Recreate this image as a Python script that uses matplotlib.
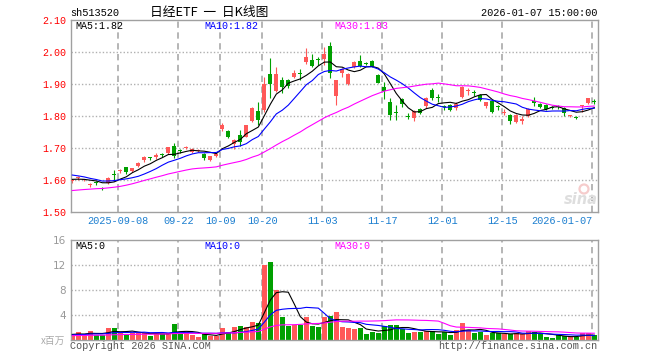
# 日经ETF 日K线图 (sina 风格) 复刻

import numpy as np
import pandas as pd
import matplotlib
matplotlib.use("Agg")
import matplotlib.pyplot as plt
from matplotlib.patches import Circle


# =========================
# 1. 数据
# =========================
# 交易日: 2025-08-27 ~ 2026-01-07, 去掉国庆和元旦休市
holidays = ["2025-10-01", "2025-10-02", "2025-10-03", "2025-10-06", "2025-10-07",
            "2025-10-08", "2026-01-01", "2026-01-02"]
dates = pd.bdate_range("2025-08-27", "2026-01-07")
dates = dates[~dates.isin(pd.to_datetime(holidays))]

open_ = [1.596, 1.605, 1.599, 1.583, 1.592, 1.574, 1.590, 1.618, 1.627, 1.640,
         1.627, 1.644, 1.661, 1.670, 1.671, 1.680, 1.684, 1.707, 1.694, 1.699,
         1.689, 1.690, 1.682, 1.664, 1.674, 1.758, 1.753, 1.712, 1.742, 1.735,
         1.785, 1.815, 1.820, 1.931, 1.879, 1.912, 1.914, 1.921, 1.934, 1.968,
         1.976, 1.979, 1.978, 2.020, 1.863, 1.935, 1.900, 1.954, 1.972, 1.966,
         1.972, 1.928, 1.891, 1.845, 1.813, 1.852, 1.800, 1.794, 1.821, 1.832,
         1.880, 1.859, 1.830, 1.835, 1.824, 1.858, 1.877, 1.874, 1.866, 1.832,
         1.846, 1.829, 1.810, 1.803, 1.782, 1.783, 1.799, 1.848, 1.838, 1.834,
         1.828, 1.830, 1.826, 1.799, 1.797, 1.832, 1.840, 1.848]
high = [1.603, 1.612, 1.604, 1.590, 1.597, 1.578, 1.609, 1.632, 1.633, 1.642,
        1.638, 1.655, 1.676, 1.673, 1.684, 1.684, 1.703, 1.715, 1.697, 1.705,
        1.700, 1.697, 1.684, 1.676, 1.684, 1.778, 1.757, 1.727, 1.757, 1.772,
        1.827, 1.845, 1.921, 1.981, 1.952, 1.923, 1.916, 1.944, 1.946, 2.012,
        1.994, 1.983, 2.017, 2.032, 1.914, 1.950, 1.933, 1.971, 1.991, 1.968,
        1.975, 1.930, 1.907, 1.855, 1.833, 1.856, 1.810, 1.818, 1.825, 1.858,
        1.888, 1.869, 1.835, 1.838, 1.845, 1.894, 1.889, 1.880, 1.868, 1.845,
        1.848, 1.834, 1.822, 1.806, 1.806, 1.801, 1.826, 1.858, 1.840, 1.836,
        1.832, 1.833, 1.828, 1.804, 1.799, 1.835, 1.856, 1.852]
low = [1.592, 1.600, 1.596, 1.578, 1.583, 1.568, 1.588, 1.598, 1.622, 1.620,
       1.625, 1.642, 1.657, 1.664, 1.667, 1.672, 1.682, 1.669, 1.684, 1.697,
       1.684, 1.686, 1.663, 1.658, 1.672, 1.752, 1.730, 1.697, 1.707, 1.733,
       1.780, 1.772, 1.812, 1.857, 1.875, 1.872, 1.886, 1.918, 1.912, 1.962,
       1.952, 1.960, 1.958, 1.920, 1.834, 1.923, 1.898, 1.949, 1.953, 1.958,
       1.952, 1.902, 1.852, 1.788, 1.786, 1.829, 1.790, 1.785, 1.805, 1.826,
       1.850, 1.843, 1.820, 1.815, 1.818, 1.855, 1.865, 1.863, 1.847, 1.826,
       1.810, 1.820, 1.803, 1.774, 1.777, 1.775, 1.797, 1.830, 1.824, 1.820,
       1.822, 1.822, 1.800, 1.797, 1.790, 1.814, 1.838, 1.836]
close = [1.600, 1.608, 1.600, 1.587, 1.590, 1.572, 1.607, 1.615, 1.630, 1.626,
         1.636, 1.653, 1.671, 1.668, 1.679, 1.678, 1.702, 1.674, 1.691, 1.702,
         1.696, 1.692, 1.669, 1.674, 1.681, 1.773, 1.735, 1.724, 1.720, 1.771,
         1.824, 1.788, 1.900, 1.900, 1.930, 1.890, 1.893, 1.935, 1.932, 1.985,
         1.955, 1.976, 1.994, 1.934, 1.911, 1.948, 1.931, 1.969, 1.956, 1.964,
         1.955, 1.904, 1.879, 1.804, 1.810, 1.836, 1.798, 1.815, 1.810, 1.856,
         1.856, 1.857, 1.827, 1.818, 1.838, 1.892, 1.880, 1.871, 1.850, 1.843,
         1.813, 1.827, 1.813, 1.783, 1.803, 1.790, 1.823, 1.842, 1.827, 1.822,
         1.826, 1.828, 1.809, 1.801, 1.795, 1.834, 1.855, 1.845]
# 成交量 (百万)
volume = [0.85, 1.28, 0.85, 1.50, 0.80, 0.80, 1.92, 1.92, 1.17, 0.96,
          1.17, 1.17, 1.17, 0.64, 0.96, 0.96, 1.17, 2.56, 1.07, 1.17,
          0.80, 0.53, 0.96, 0.70, 0.70, 1.92, 1.33, 2.13, 2.24, 2.03,
          2.88, 2.67, 12.00, 12.48, 7.95, 3.63, 2.30, 2.45, 2.40, 3.63,
          2.24, 2.08, 3.68, 3.84, 4.53, 2.13, 1.97, 1.76, 1.97, 0.96,
          1.33, 1.17, 2.24, 2.45, 2.45, 1.70, 1.17, 1.33, 1.33, 1.50,
          1.44, 0.96, 1.23, 0.85, 1.65, 2.77, 1.60, 1.17, 1.33, 0.85,
          1.17, 1.07, 0.90, 0.90, 1.07, 0.90, 1.39, 1.33, 0.90, 0.53,
          0.37, 0.75, 0.64, 0.43, 0.53, 1.07, 1.07, 0.80]

# 图左侧之前 29 个交易日 (用于均线)
pre_close = [1.560, 1.555, 1.550, 1.548, 1.552, 1.550, 1.553, 1.551,
             1.515, 1.505, 1.500, 1.510, 1.520, 1.525, 1.535, 1.540, 1.553, 1.565,
             1.580, 1.592,
             1.635, 1.632, 1.633, 1.625, 1.620, 1.605, 1.603, 1.600, 1.602]
pre_vol = [0.62, 0.55, 0.71, 0.68, 0.59, 0.74, 0.66, 0.52, 0.63, 0.70,
           0.58, 0.77, 0.64, 0.61, 0.69, 0.57, 0.72, 0.66, 0.60, 0.76,
           0.68, 0.74, 0.65, 0.71, 0.72, 0.95, 0.88, 0.92, 0.90]

ma_windows = [5, 10, 30]
ma_colors = ["black", "#0000ff", "#ff00ff"]
price_legend = ["MA5:1.82", "MA10:1.82", "MA30:1.83"]
vol_legend = ["MA5:0", "MA10:0", "MA30:0"]

price_ticks = [1.50, 1.60, 1.70, 1.80, 1.90, 2.00, 2.10]
vol_ticks = [4, 8, 12, 16]
date_ticks = ["2025-09-08", "2025-09-22", "2025-10-09", "2025-10-20", "2025-11-03",
              "2025-11-17", "2025-12-01", "2025-12-15", "2026-01-07"]
date_labels = ["2025-09-08", "09-22", "10-09", "10-20", "11-03",
               "11-17", "12-01", "12-15", "2026-01-07"]


# =========================
# 2. 计算
# =========================
open_ = np.array(open_)
high = np.array(high)
low = np.array(low)
close = np.array(close)
volume = np.array(volume)
n = len(close)
idx = np.arange(n)

all_close = pd.Series(pre_close + list(close))
all_vol = pd.Series(pre_vol + list(volume))
ma_price = [all_close.rolling(w).mean().values[-n:] for w in ma_windows]
ma_vol = [all_vol.rolling(w).mean().values[-n:] for w in ma_windows]

RED = "#ff5858"
GREEN = "#00a000"
up = close >= open_
colors = np.where(up, RED, GREEN)

tick_pos = [int(np.where(dates == pd.Timestamp(d))[0][0]) for d in date_ticks]


# =========================
# 3. 作图
# =========================
W, H = 660, 360
MONO = ["Liberation Mono", "DejaVu Sans Mono"]
CJK = ["Noto Sans CJK SC", "DejaVu Sans"]
GRID = "#b0b0b0"
BORDER = "#a0a0a0"


def fx(x):
    return x / W


def fy(y):
    return 1 - y / H


fig = plt.figure(figsize=(6.6, 3.6), dpi=100)
fig.patch.set_facecolor("white")

x0, x1 = 70.7, 597.7
ax = fig.add_axes([fx(x0), fy(212), fx(x1) - fx(x0), fy(20) - fy(212)])
axv = fig.add_axes([fx(x0), fy(340), fx(x1) - fx(x0), fy(240.3) - fy(340)])

for a in (ax, axv):
    a.set_xlim(-0.27, n - 1 + 0.57)
    for s in a.spines.values():
        s.set_color(BORDER)
        s.set_linewidth(1.0)
    a.set_xticks([])
    a.tick_params(axis="y", length=0, pad=3.3)
    for t in tick_pos:
        a.axvline(t - 1 / 3, color=GRID, lw=1.3, linestyle=(0, (3.5, 2.5)), zorder=0)

# 主图: K线
ax.set_ylim(price_ticks[0], price_ticks[-1])
ax.set_yticks(price_ticks)
ax.set_yticklabels(["%.2f" % v for v in price_ticks], color="#ff0000",
                   family=MONO, fontsize=7.2)
for v in price_ticks[1:-1]:
    ax.axhline(v, color=GRID, lw=1.0, linestyle=(0, (1, 1.5)), zorder=0)

ax.vlines(idx, low, high, colors=colors, linewidth=0.8, zorder=2)
body_bottom = np.minimum(open_, close)
body_h = np.maximum(np.abs(close - open_), 0.003)
ax.bar(idx, body_h, 0.72, bottom=body_bottom, color=colors, linewidth=0, zorder=3)

for m, c in zip(ma_price, ma_colors):
    ax.plot(idx, m, color=c, lw=0.8, zorder=4)

# 副图: 成交量
axv.set_ylim(0, vol_ticks[-1])
axv.set_yticks(vol_ticks)
axv.set_yticklabels([str(v) for v in vol_ticks], color="#999999",
                    family="DejaVu Sans", fontsize=7.5)
for v in vol_ticks[:-1]:
    axv.axhline(v, color=GRID, lw=1.0, linestyle=(0, (1, 1.5)), zorder=0)
axv.bar(idx, volume, 0.85, color=colors, linewidth=0, zorder=2)
for m, c in zip(ma_vol, ma_colors):
    axv.plot(idx, m, color=c, lw=0.8, zorder=4)

# 日期标签
for t, lab in zip(tick_pos, date_labels):
    ha = "right" if t == n - 1 else "center"
    ax.text(t - 1 / 3, -0.047, lab, transform=ax.get_xaxis_transform(),
            ha=ha, va="center", color="#1c7fd0", family=MONO, fontsize=7.4)

# 均线图例
leg_x = [75, 204.7, 334.7]
for x, lab, c in zip(leg_x, price_legend, ma_colors):
    fig.text(fx(x), fy(26), lab, color=c, family=MONO, fontsize=7.2, va="center")
for x, lab, c in zip(leg_x, vol_legend, ma_colors):
    fig.text(fx(x), fy(246), lab, color=c, family=MONO, fontsize=7.2, va="center")

# 标题等文字
fig.text(fx(70), fy(13), "sh513520", family=MONO, fontsize=7.4, va="center")
fig.text(fx(150), fy(12.5), "日经ETF  一  日K线图", family=CJK, fontsize=9.2, va="center")
fig.text(fx(597.5), fy(12.7), "2026-01-07 15:00:00", family=MONO, fontsize=7.4,
         va="center", ha="right")
fig.text(fx(65), fy(340.5), "x百万", family=CJK, fontsize=7, color="#aaaaaa",
         va="center", ha="right")
fig.text(fx(70), fy(346), "Copyright 2026 SINA.COM", family=MONO, fontsize=7.3,
         color="#555555", va="center")
fig.text(fx(597.5), fy(346), "http://finance.sina.com.cn", family=MONO, fontsize=7.3,
         color="#555555", va="center", ha="right")

# sina 水印
fig.add_artist(Circle((584 / 100, (360 - 189) / 100), 0.045, transform=fig.dpi_scale_trans,
                      fill=False, edgecolor="#f6cccc", lw=1.6))
fig.text(fx(581), fy(200), "sina", family="DejaVu Sans", fontsize=10.5, style="italic",
         weight="bold", color="#dedede", ha="center", va="center")

fig.savefig("out.png", dpi=100)
